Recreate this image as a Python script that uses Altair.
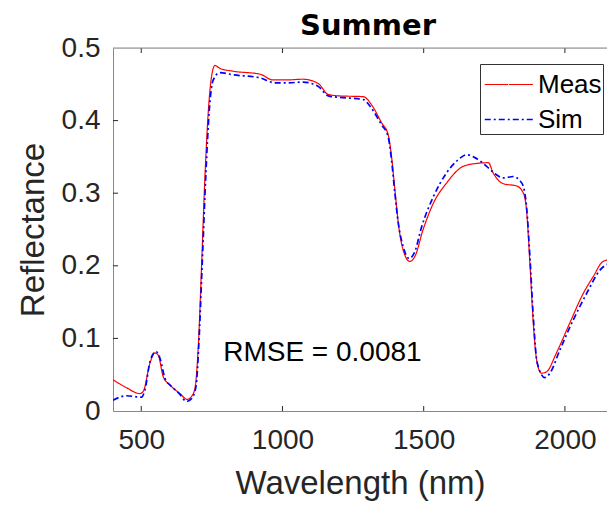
import altair as alt
import pandas as pd

meas_wl = [400, 448, 495, 507, 531, 548, 560, 578, 601, 637, 663, 678, 690, 702, 714, 725, 737, 749, 761,
           778, 826, 920, 967, 1014, 1073, 1127, 1162, 1203, 1286, 1315, 1351, 1374, 1386, 1398, 1410,
           1427, 1451, 1469, 1498, 1534, 1581, 1640, 1687, 1729, 1746, 1782, 1829, 1853, 1864, 1876,
           1888, 1900, 1917, 1935, 1970, 2017, 2065, 2100, 2135, 2177]
meas_val = [0.043, 0.032, 0.024, 0.027, 0.066, 0.080, 0.077, 0.047, 0.036, 0.024, 0.016, 0.020, 0.031,
            0.089, 0.204, 0.318, 0.410, 0.461, 0.476, 0.472, 0.468, 0.464, 0.456, 0.456, 0.457, 0.451,
            0.436, 0.434, 0.433, 0.422, 0.397, 0.381, 0.351, 0.305, 0.259, 0.222, 0.206, 0.213, 0.250,
            0.286, 0.314, 0.337, 0.341, 0.342, 0.328, 0.313, 0.310, 0.300, 0.277, 0.204, 0.121, 0.070,
            0.052, 0.054, 0.080, 0.121, 0.162, 0.185, 0.206, 0.210]

sim_wl = [400, 448, 501, 513, 531, 552, 566, 584, 607, 637, 660, 678, 694, 704, 716, 729, 741, 755, 778,
          826, 920, 973, 1014, 1073, 1127, 1162, 1203, 1286, 1315, 1351, 1374, 1386, 1398, 1410, 1427,
          1449, 1469, 1493, 1534, 1581, 1622, 1652, 1681, 1723, 1752, 1782, 1817, 1839, 1853, 1864,
          1876, 1888, 1902, 1929, 1947, 1982, 2029, 2077, 2124, 2177]
sim_val = [0.015, 0.021, 0.019, 0.029, 0.068, 0.082, 0.073, 0.045, 0.034, 0.023, 0.013, 0.017, 0.034,
           0.093, 0.204, 0.328, 0.415, 0.456, 0.466, 0.463, 0.459, 0.452, 0.452, 0.453, 0.447, 0.434,
           0.432, 0.429, 0.417, 0.394, 0.378, 0.346, 0.300, 0.259, 0.227, 0.210, 0.220, 0.254, 0.295,
           0.328, 0.346, 0.353, 0.349, 0.337, 0.327, 0.321, 0.323, 0.318, 0.309, 0.282, 0.213, 0.130,
           0.066, 0.046, 0.052, 0.084, 0.125, 0.162, 0.194, 0.206]

x_ticks = [500, 1000, 1500, 2000]
y_ticks = [0, 0.1, 0.2, 0.3, 0.4, 0.5]
annot_text = ["RMSE = 0.0081"]
annot_x = [790]
annot_y = [0.08]
title_text = ["Summer"]

W, H = 494, 363
XDOM = [400, 2149]
YDOM = [0, 0.5]
FONT = "Liberation Sans"
TXT = "#262626"

df = pd.concat([
    pd.DataFrame({"wl": meas_wl, "r": meas_val, "series": "Meas"}),
    pd.DataFrame({"wl": sim_wl, "r": sim_val, "series": "Sim"}),
])

xs = alt.Scale(domain=XDOM, nice=False, zero=False)
ys = alt.Scale(domain=YDOM, nice=False)

lines = alt.Chart(df).mark_line(interpolate="monotone", clip=True).encode(
    x=alt.X("wl:Q", scale=xs, title="Wavelength (nm)",
            axis=alt.Axis(values=x_ticks, ticks=False, tickSize=0, labelPadding=15, format="d",
                          labelFontSize=28, labelFont=FONT, labelColor=TXT, grid=False,
                          domainColor="#888888", titleFont=FONT, titleFontSize=33,
                          titleFontWeight="normal", titleColor=TXT, titleBaseline="alphabetic",
                          titleY=82)),
    y=alt.Y("r:Q", scale=ys, title="Reflectance",
            axis=alt.Axis(values=y_ticks, ticks=False, tickSize=0, labelPadding=13,
                          labelFontSize=28, labelFont=FONT, labelColor=TXT, grid=False,
                          domainColor="#888888", titleFont=FONT, titleFontSize=33,
                          titleFontWeight="normal", titleColor=TXT, titleBaseline="alphabetic",
                          titleX=-70, format=".1~f")),
    color=alt.Color("series:N", scale=alt.Scale(domain=["Meas", "Sim"], range=["#ff0000", "#0000ff"]),
                    legend=alt.Legend(title=None, orient="none", legendX=367, legendY=16,
                                      symbolType="M-0.85,0H1.75", symbolSize=1369, symbolStrokeWidth=1.4,
                                      labelFontSize=26, labelFont=FONT, labelColor="#000000",
                                      labelOffset=18, rowPadding=2, padding=1,
                                      strokeColor="#333333", fillColor="#ffffff")),
    strokeDash=alt.StrokeDash("series:N", scale=alt.Scale(domain=["Meas", "Sim"], range=[[1, 0], [6, 3, 2, 3]]),
                              legend=None),
    strokeWidth=alt.StrokeWidth("series:N", scale=alt.Scale(domain=["Meas", "Sim"], range=[1.2, 1.7]),
                                legend=None),
)

xt = pd.DataFrame({"t": x_ticks})
yt = pd.DataFrame({"t": y_ticks[1:-1]})
ticks_bottom = alt.Chart(xt).mark_rule(color=TXT, strokeWidth=1).encode(
    x=alt.X("t:Q", scale=xs), y=alt.value(H - 5), y2=alt.value(H))
ticks_top = alt.Chart(xt).mark_rule(color=TXT, strokeWidth=1).encode(
    x=alt.X("t:Q", scale=xs), y=alt.value(0), y2=alt.value(5))
ticks_left = alt.Chart(yt).mark_rule(color=TXT, strokeWidth=1).encode(
    y=alt.Y("t:Q", scale=ys), x=alt.value(0), x2=alt.value(5))
top_line = alt.Chart(pd.DataFrame({"a": [0]})).mark_rule(color="#888888", strokeWidth=1).encode(
    x=alt.value(0), x2=alt.value(W), y=alt.value(0))

ann = alt.Chart(pd.DataFrame({"x": annot_x, "y": annot_y, "t": annot_text})).mark_text(
    align="left", baseline="middle", font=FONT, fontSize=28, color="#000000"
).encode(x=alt.X("x:Q", scale=xs), y=alt.Y("y:Q", scale=ys), text="t:N")

title = alt.Chart(pd.DataFrame({"t": title_text})).mark_text(
    align="center", baseline="alphabetic", font="DejaVu Sans", fontSize=29, fontWeight="bold",
    color="#000000"
).encode(x=alt.value(255), y=alt.value(-13), text="t:N")

chart = alt.layer(lines, ticks_bottom, ticks_top, ticks_left, top_line, ann, title).properties(
    width=W, height=H,
    autosize=alt.AutoSizeParams(type="none"),
    padding={"left": 105, "top": 40, "right": 0, "bottom": 90},
).configure_view(stroke=None).configure(background="white")

chart.save("out.html", embed_options={"renderer": "svg", "actions": False})
